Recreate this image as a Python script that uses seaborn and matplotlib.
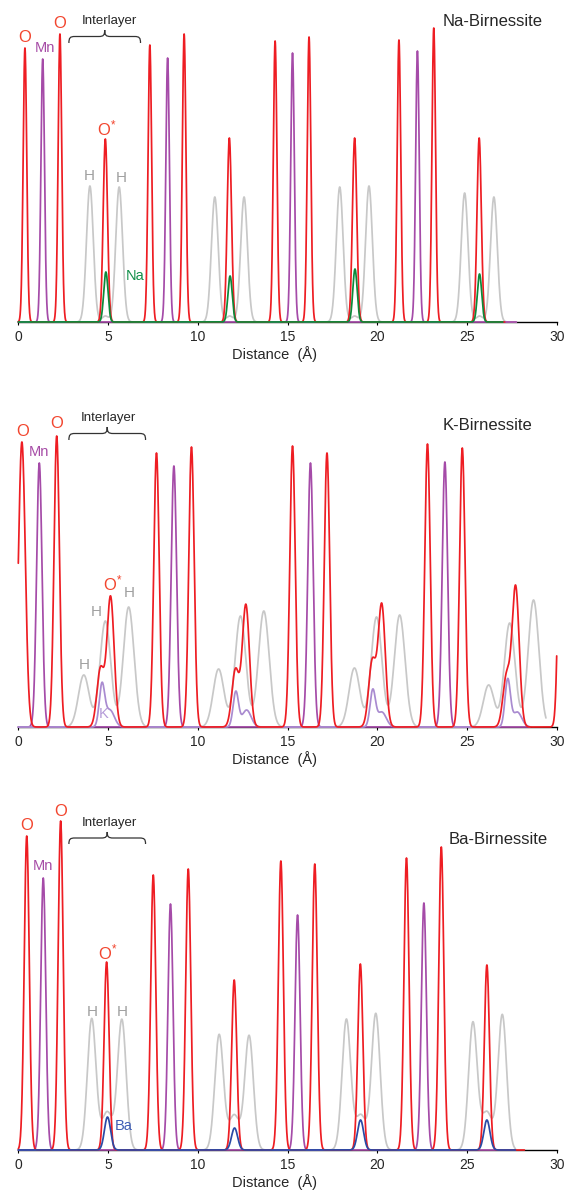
import numpy as np
import pandas as pd
import matplotlib
matplotlib.use("Agg")
import matplotlib.pyplot as plt
from matplotlib.path import Path
from matplotlib.patches import PathPatch
import seaborn as sns

# ---------------- data (peak centres in Angstrom, heights in arbitrary density units, widths = sigma) -------------
# Na-Birnessite
NA_O_POS = [0.37, 2.32, 4.85, 7.33, 9.24, 11.76, 14.31, 16.20, 18.74, 21.21, 23.15, 25.68]
NA_O_HGT = [274, 288, 183, 277, 288, 184, 281, 285, 184, 282, 294, 184]
NA_O_WID = [0.10, 0.10, 0.12, 0.10, 0.10, 0.12, 0.10, 0.10, 0.12, 0.10, 0.10, 0.12]
NA_MN_POS = [1.36, 8.32, 15.28, 22.24]
NA_MN_HGT = [263, 264, 269, 271]
NA_H_POS = [3.99, 4.85, 5.62, 10.95, 11.78, 12.58, 17.91, 18.74, 19.54, 24.87, 25.70, 26.50]
NA_H_HGT = [136, 6, 135, 125, 6, 125, 135, 6, 136, 129, 6, 125]
NA_NA_POS = [4.88, 11.80, 18.76, 25.70]
NA_NA_HGT = [50, 46, 53, 48]

# K-Birnessite
K_O_POS = [0.20, 2.14, 4.58, 5.14, 7.70, 9.65, 12.10, 12.68, 15.28, 17.20, 19.72, 20.25,
           22.80, 24.74, 27.20, 27.71, 30.25]
K_O_HGT = [285, 291, 58, 130, 274, 280, 57, 122, 281, 274, 65, 122, 283, 279, 50, 140, 285]
K_O_WID = [0.19, 0.15, 0.20, 0.20, 0.15, 0.15, 0.20, 0.20, 0.15, 0.15, 0.20, 0.20,
           0.15, 0.15, 0.20, 0.20, 0.15]
K_MN_POS = [1.17, 8.67, 16.28, 23.77]
K_MN_HGT = [264, 261, 264, 265]
K_H_POS = [3.65, 4.85, 6.15, 11.16, 12.38, 13.68, 18.73, 19.96, 21.25, 26.21, 27.38, 28.71]
K_H_HGT = [52, 106, 120, 58, 111, 116, 59, 110, 112, 42, 104, 127]
K_K_POS = [4.66, 5.10, 12.12, 12.72, 19.75, 20.25, 27.27, 27.80]
K_K_HGT = [41, 17, 35, 17, 36, 15, 47, 15]
K_K_WID = [0.15, 0.25, 0.15, 0.25, 0.15, 0.25, 0.15, 0.25]

# Ba-Birnessite
BA_O_POS = [0.47, 2.36, 4.92, 7.52, 9.47, 12.03, 14.63, 16.52, 19.06, 21.63, 23.57, 26.11]
BA_O_HGT = [314, 329, 188, 275, 281, 170, 289, 286, 186, 292, 303, 185]
BA_MN_POS = [1.39, 8.48, 15.56, 22.60]
BA_MN_HGT = [272, 246, 235, 247]
BA_H_POS = [4.09, 4.95, 5.77, 11.19, 12.03, 12.86, 18.28, 19.08, 19.92, 25.33, 26.11, 26.97]
BA_H_HGT = [131, 38, 130, 115, 35, 114, 130, 35, 136, 127, 38, 135]
BA_H_WID = [0.24, 0.30, 0.24, 0.24, 0.30, 0.24, 0.24, 0.30, 0.24, 0.24, 0.30, 0.24]
BA_BA_POS = [4.97, 12.05, 19.07, 26.11]
BA_BA_HGT = [33, 22, 30, 30]

X_TICKS = [0, 5, 10, 15, 20, 25, 30]
PANEL_TITLES = ["Na-Birnessite", "K-Birnessite", "Ba-Birnessite"]

# ---------------- style ----------------
sns.set_style("white")
plt.rcParams["font.family"] = ["Liberation Sans", "DejaVu Sans"]
plt.rcParams["mathtext.fontset"] = "custom"
plt.rcParams["mathtext.rm"] = "Liberation Sans"
plt.rcParams["mathtext.default"] = "rm"

C_RED = "#ee1d23"
C_MN = "#a54ba8"
C_H = "#c8c8c8"
C_NA = "#0b8a3a"
C_K = "#a98bd0"
C_BA = "#2a4aa6"
T_O = "#f2452e"
T_MN = "#a64ca6"
T_H = "#a0a0a0"
T_NA = "#12904a"
T_K = "#b49ad8"
T_BA = "#3f5db5"
T_DARK = "#262626"


def profile(x, pos, hgt, wid):
    w = np.broadcast_to(np.asarray(wid, dtype=float), (len(pos),))
    y = np.zeros_like(x)
    for c, h, s in zip(pos, hgt, w):
        y += h * np.exp(-0.5 * ((x - c) / s) ** 2)
    return y


def frame(name, xmax, pos, hgt, wid):
    x = np.arange(0.0, xmax + 1e-9, 0.01)
    return pd.DataFrame({"Distance": x, "Density": profile(x, pos, hgt, wid), "Atom": name})


def brace(ax, x0, x1, y0, q, r=0.33):
    xm = 0.5 * (x0 + x1)
    verts = [(x0, y0), (x0, y0 + 0.8 * q), (x0 + 0.2 * r, y0 + q), (x0 + r, y0 + q),
             (xm - r, y0 + q),
             (xm - 0.2 * r, y0 + q), (xm, y0 + 1.2 * q), (xm, y0 + 2 * q),
             (xm, y0 + 1.2 * q), (xm + 0.2 * r, y0 + q), (xm + r, y0 + q),
             (x1 - r, y0 + q),
             (x1 - 0.2 * r, y0 + q), (x1, y0 + 0.8 * q), (x1, y0)]
    codes = [Path.MOVETO, Path.CURVE4, Path.CURVE4, Path.CURVE4,
             Path.LINETO,
             Path.CURVE4, Path.CURVE4, Path.CURVE4,
             Path.CURVE4, Path.CURVE4, Path.CURVE4,
             Path.LINETO,
             Path.CURVE4, Path.CURVE4, Path.CURVE4]
    ax.add_patch(PathPatch(Path(verts, codes), fill=False, edgecolor="#333333", lw=0.9,
                           clip_on=False))


FIG_W, FIG_H = 565, 1190
fig = plt.figure(figsize=(FIG_W / 100, FIG_H / 100), dpi=100)
LEFT_PX, RIGHT_PX = 18.3, 556.7

panels = [
    dict(base=322, top=5,
         frames=[frame("H", 27.75, NA_H_POS, NA_H_HGT, 0.19),
                 frame("Mn", 27.75, NA_MN_POS, NA_MN_HGT, 0.10),
                 frame("O", 27.1, NA_O_POS, NA_O_HGT, NA_O_WID),
                 frame("Na", 27.0, NA_NA_POS, NA_NA_HGT, 0.12)],
         palette={"H": C_H, "Mn": C_MN, "O": C_RED, "Na": C_NA}),
    dict(base=727, top=405,
         frames=[frame("H", 29.4, K_H_POS, K_H_HGT, 0.30),
                 frame("Mn", 28.5, K_MN_POS, K_MN_HGT, 0.15),
                 frame("K", 28.5, K_K_POS, K_K_HGT, K_K_WID),
                 frame("O", 30.0, K_O_POS, K_O_HGT, K_O_WID)],
         palette={"H": C_H, "Mn": C_MN, "K": C_K, "O": C_RED}),
    dict(base=1150, top=805,
         frames=[frame("H", 27.7, BA_H_POS, BA_H_HGT, BA_H_WID),
                 frame("Mn", 27.7, BA_MN_POS, BA_MN_HGT, 0.14),
                 frame("O", 28.2, BA_O_POS, BA_O_HGT, 0.14),
                 frame("Ba", 27.7, BA_BA_POS, BA_BA_HGT, 0.17)],
         palette={"H": C_H, "Mn": C_MN, "O": C_RED, "Ba": C_BA}),
]

axes = []
for i, p in enumerate(panels):
    H = p["base"] - p["top"]
    ax = fig.add_axes([LEFT_PX / FIG_W, (FIG_H - p["base"]) / FIG_H,
                       (RIGHT_PX - LEFT_PX) / FIG_W, H / FIG_H])
    ax.patch.set_alpha(0)
    df = pd.concat(p["frames"], ignore_index=True)
    order = [f["Atom"].iloc[0] for f in p["frames"]]
    sns.lineplot(data=df, x="Distance", y="Density", hue="Atom", hue_order=order,
                 palette=p["palette"], estimator=None, sort=False, linewidth=1.25,
                 legend=False, ax=ax, zorder=3)
    for ln in ax.lines:
        ln.set_clip_on(False)
    ax.set_xlim(0, 30)
    ax.set_ylim(0, H)
    ax.set_yticks([])
    ax.set_ylabel("")
    ax.set_xticks(X_TICKS)
    ax.tick_params(axis="x", direction="out", length=2.2, width=0.8, color="black",
                   labelsize=10, labelcolor=T_DARK, pad=3.5, bottom=True)
    for s in ["top", "left", "right"]:
        ax.spines[s].set_visible(False)
    ax.spines["bottom"].set_color("black")
    ax.spines["bottom"].set_linewidth(1.0)
    ax.spines["bottom"].set_zorder(1)
    ax.set_xlabel("Distance  (Å)", fontsize=10.5, color=T_DARK)
    ax.xaxis.set_label_coords(14.25 / 30, -32.5 / H)
    ax.xaxis.label.set_verticalalignment("center")
    ax.text(26.45 if i == 0 else (26.14 if i == 1 else 26.73),
            [301, 302, 311][i], PANEL_TITLES[i], fontsize=12, color=T_DARK,
            ha="center", va="center")
    axes.append(ax)

kw = dict(ha="center", va="center", clip_on=False)

# Panel 1 labels
ax = axes[0]
ax.text(0.37, 285, "O", color=T_O, fontsize=12, **kw)
ax.text(1.49, 274, "Mn", color=T_MN, fontsize=10.5, **kw)
ax.text(2.32, 298, "O", color=T_O, fontsize=12, **kw)
ax.text(5.07, 301, "Interlayer", color=T_DARK, fontsize=9.5, **kw)
brace(ax, 2.82, 6.81, 279, 6.5)
ax.text(4.95, 194, "O$^{*}$", color=T_O, fontsize=12, **kw)
ax.text(3.95, 146, "H", color=T_H, fontsize=11, **kw)
ax.text(5.76, 144, "H", color=T_H, fontsize=11, **kw)
ax.text(6.5, 46, "Na", color=T_NA, fontsize=10.5, **kw)

# Panel 2 labels
ax = axes[1]
ax.text(0.24, 295, "O", color=T_O, fontsize=12, **kw)
ax.text(1.17, 275, "Mn", color=T_MN, fontsize=10.5, **kw)
ax.text(2.14, 303, "O", color=T_O, fontsize=12, **kw)
ax.text(5.01, 309, "Interlayer", color=T_DARK, fontsize=9.5, **kw)
brace(ax, 2.82, 7.09, 287, 6.5)
ax.text(5.27, 144, "O$^{*}$", color=T_O, fontsize=12, **kw)
ax.text(6.16, 134, "H", color=T_H, fontsize=11, **kw)
ax.text(4.33, 115, "H", color=T_H, fontsize=11, **kw)
ax.text(3.67, 62, "H", color=T_H, fontsize=11, **kw)
ax.text(4.77, 13, "K", color=T_K, fontsize=10.5, **kw)

# Panel 3 labels
ax = axes[2]
ax.text(0.47, 325, "O", color=T_O, fontsize=12, **kw)
ax.text(1.39, 284, "Mn", color=T_MN, fontsize=10.5, **kw)
ax.text(2.36, 339, "O", color=T_O, fontsize=12, **kw)
ax.text(5.07, 327, "Interlayer", color=T_DARK, fontsize=9.5, **kw)
brace(ax, 2.82, 7.09, 306, 6.0)
ax.text(5.0, 198, "O$^{*}$", color=T_O, fontsize=12, **kw)
ax.text(4.12, 138, "H", color=T_H, fontsize=11, **kw)
ax.text(5.79, 138, "H", color=T_H, fontsize=11, **kw)
ax.text(5.9, 24, "Ba", color=T_BA, fontsize=10.5, **kw)

fig.savefig("out.png", dpi=100, facecolor="white")
